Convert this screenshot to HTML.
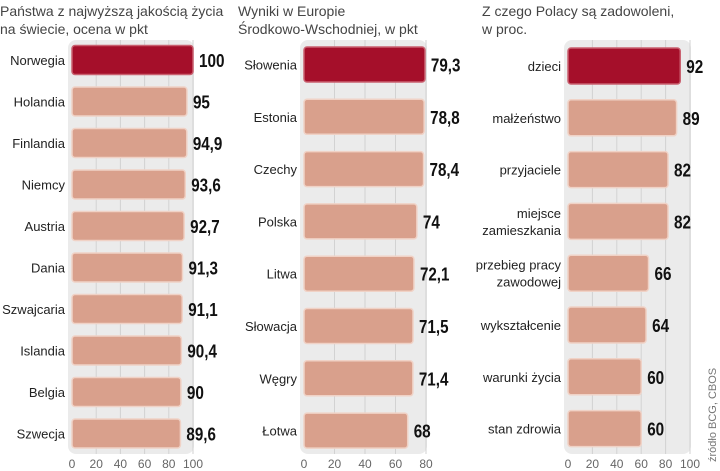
<!DOCTYPE html>
<html><head><meta charset="utf-8"><style>
body{margin:0;background:#fff;width:720px;height:471px;overflow:hidden;font-family:"Liberation Sans",sans-serif}
svg{display:block}
.t{font-size:14px;fill:#444}
.lab{font-size:13px;fill:#222}
.val{font-size:18px;font-weight:bold;fill:#111}
.tick{font-size:12px;fill:#666}
</style></head><body>
<svg id="c" width="720" height="471">
<text class="t" x="0" y="16">Państwa z najwyższą jakością życia</text>
<text class="t" x="0" y="34">na świecie, ocena w pkt</text>
<text class="t" x="238" y="16">Wyniki w Europie</text>
<text class="t" x="238" y="34">Środkowo-Wschodniej, w pkt</text>
<text class="t" x="482" y="16">Z czego Polacy są zadowoleni,</text>
<text class="t" x="482" y="34">w proc.</text>
<text transform="translate(716,462) rotate(-90)" style="font-size:11px;fill:#777">źródło BCG, CBOS</text>
</svg>
<script>
const cats1=["Norwegia","Holandia","Finlandia","Niemcy","Austria","Dania","Szwajcaria","Islandia","Belgia","Szwecja"];
const vals1=[100,95,94.9,93.6,92.7,91.3,91.1,90.4,90,89.6];
const ticks1=[0,20,40,60,80,100];
const cats2=["Słowenia","Estonia","Czechy","Polska","Litwa","Słowacja","Węgry","Łotwa"];
const vals2=[79.3,78.8,78.4,74,72.1,71.5,71.4,68];
const ticks2=[0,20,40,60,80];
const cats3=[["dzieci"],["małżeństwo"],["przyjaciele"],["miejsce","zamieszkania"],["przebieg pracy","zawodowej"],["wykształcenie"],["warunki życia"],["stan zdrowia"]];
const vals3=[92,89,82,82,66,64,60,60];
const ticks3=[0,20,40,60,80,100];
const svg=document.getElementById('c');const NS='http://www.w3.org/2000/svg';
function mk(t,a){const e=document.createElementNS(NS,t);for(const k in a)e.setAttribute(k,a[k]);svg.appendChild(e);return e;}
function chart(id,cats,vals,ticks,x0,x1,max,c0,step,bh,pw){
  const sx=v=>x0+(x1-x0)*v/max;
  const p=mk('rect',{x:x0-4,y:40,width:pw,height:414,rx:8,fill:'#ebebeb'});
  
  ticks.forEach(t=>{
    if(t>0){const g=mk('line',{x1:sx(t),x2:sx(t),y1:40,y2:454,stroke:'#d2d2d2','stroke-width':1});
    }
    const tx=mk('text',{x:sx(t),y:468,'text-anchor':'middle',class:'tick'});tx.textContent=t;
    
  });
  cats.forEach((c,i)=>{
    const cy=c0+i*step;
    const b=mk('rect',{x:x0,y:cy-bh/2,width:sx(vals[i])-x0,height:bh,rx:3,fill:i==0?'#a50f2a':'#d9a08c',stroke:i==0?'#c9606f':'#f0d2c6','stroke-width':1.5});
    
    const lines=Array.isArray(c)?c:[c];
    lines.forEach((l,j)=>{
      const t=mk('text',{x:x0-7,y:cy+5+(j-(lines.length-1)/2)*17,'text-anchor':'end',class:'lab'});t.textContent=l;
      
    });
    const s=String(vals[i]).replace('.',',');
    const w=s.replace(',','').length*8.5+(s.includes(',')?4:0);
    const v=mk('text',{x:sx(vals[i])+6,y:cy+7,class:'val',textLength:w,lengthAdjust:'spacingAndGlyphs'});v.textContent=s;
    
  });
}
chart('chart1',cats1,vals1,ticks1,72,193,100,60,41.5,29,126);
chart('chart2',cats2,vals2,ticks2,304,426,80,64.5,52.3,35,127);
chart('chart3',cats3,vals3,ticks3,568,690,100,66,51.8,36,127);
</script>
</body></html>
